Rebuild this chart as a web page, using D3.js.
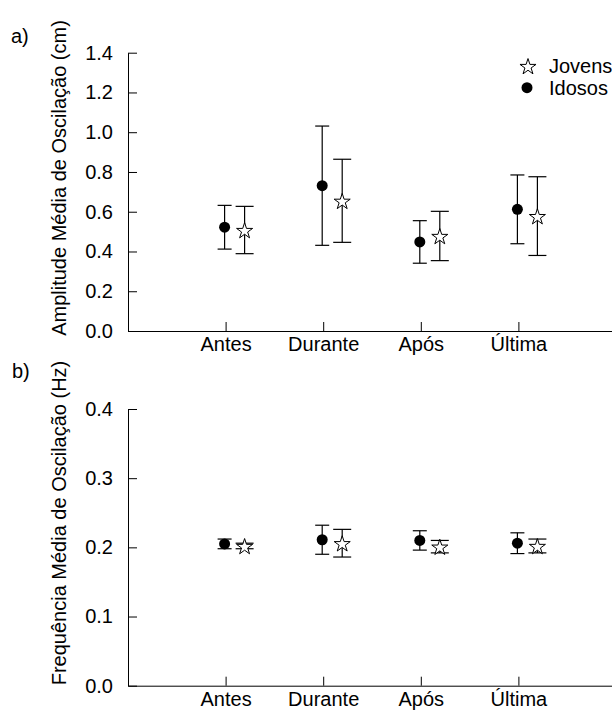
<!DOCTYPE html>
<html>
<head>
<meta charset="utf-8">
<script src="https://cdn.jsdelivr.net/npm/d3@7"></script>
<style>
body { margin: 0; background: #fff; }
svg text { font-family: Arial, "Liberation Sans", sans-serif; fill: #000; }
</style>
</head>
<body>
<div id="chart"></div>
<script>
// categories and values (mean, sd)
let categories = ["Antes", "Durante", "Após", "Última"];

let ampIdosos   = [0.522, 0.731, 0.448, 0.612];
let ampIdososSd = [0.110, 0.300, 0.107, 0.173];
let ampJovens   = [0.508, 0.655, 0.478, 0.578];
let ampJovensSd = [0.119, 0.209, 0.124, 0.198];

let freqIdosos   = [0.205, 0.211, 0.210, 0.206];
let freqIdososSd = [0.007, 0.021, 0.014, 0.015];
let freqJovens   = [0.202, 0.206, 0.201, 0.202];
let freqJovensSd = [0.004, 0.020, 0.009, 0.010];

let svg = d3.select('#chart').append('svg')
	.attr('width', 612)
	.attr('height', 710);

let fontSize = 20;
let xScale = d3.scaleLinear().domain([0, 5]).range([128, 616]);
let starPath = d3.symbol(d3.symbolStar, 80)();

function drawPanel(yScale, nTicks, idosos, idososSd, jovens, jovensSd) {
	let g = svg.append('g');
	let y0 = yScale.range()[0];

	// y axis, ticks pointing inward
	g.append('g')
		.attr('transform', 'translate(128,0)')
		.call(d3.axisLeft(yScale).ticks(nTicks).tickFormat(d3.format('.1f'))
			.tickSize(-9).tickSizeOuter(0).tickPadding(15))
		.attr('font-size', fontSize)
		.attr('font-family', 'Arial, "Liberation Sans", sans-serif');

	// x axis with category labels
	g.append('g')
		.attr('transform', `translate(0,${y0})`)
		.call(d3.axisBottom(xScale).tickValues([1, 2, 3, 4])
			.tickFormat(i => categories[i - 1])
			.tickSize(-9).tickSizeOuter(0).tickPadding(6))
		.attr('font-size', fontSize)
		.attr('font-family', 'Arial, "Liberation Sans", sans-serif');

	let series = [
		{ mean: idosos, sd: idososSd, dx: -1, cap: 7, kind: 'circle' },
		{ mean: jovens, sd: jovensSd, dx: 19, cap: 9, kind: 'star' }
	];

	series.forEach(function (s) {
		let pts = s.mean.map((m, i) => ({ x: xScale(i + 1) + s.dx, m: m, sd: s.sd[i] }));
		let bars = g.append('g').attr('stroke', '#000').attr('stroke-width', 1.2);
		pts.forEach(function (p) {
			bars.append('line')
				.attr('x1', p.x).attr('x2', p.x)
				.attr('y1', yScale(p.m - p.sd)).attr('y2', yScale(p.m + p.sd));
			[p.m - p.sd, p.m + p.sd].forEach(function (v) {
				bars.append('line')
					.attr('x1', p.x - s.cap).attr('x2', p.x + s.cap)
					.attr('y1', yScale(v)).attr('y2', yScale(v));
			});
		});
		if (s.kind === 'circle') {
			g.selectAll(null).data(pts).enter().append('circle')
				.attr('cx', d => d.x).attr('cy', d => yScale(d.m))
				.attr('r', 5.5).attr('fill', '#000');
		} else {
			g.selectAll(null).data(pts).enter().append('path')
				.attr('d', starPath)
				.attr('transform', d => `translate(${d.x},${yScale(d.m) + 1})`)
				.attr('fill', '#fff').attr('stroke', '#000').attr('stroke-width', 1);
		}
	});
	return g;
}

// a) amplitude
let yAmp = d3.scaleLinear().domain([0, 1.4]).range([331, 52.7]);
drawPanel(yAmp, 7, ampIdosos, ampIdososSd, ampJovens, ampJovensSd);

// b) frequency
let yFreq = d3.scaleLinear().domain([0, 0.4]).range([685.7, 409]);
drawPanel(yFreq, 4, freqIdosos, freqIdososSd, freqJovens, freqJovensSd);

// panel letters and y titles
svg.append('text').attr('x', 11).attr('y', 43).attr('font-size', fontSize).text('a)');
svg.append('text').attr('x', 12).attr('y', 378).attr('font-size', fontSize).text('b)');

svg.append('text')
	.attr('transform', 'translate(66,178) rotate(-90)')
	.attr('text-anchor', 'middle')
	.attr('font-size', fontSize)
	.text('Amplitude Média de Oscilação (cm)');
svg.append('text')
	.attr('transform', 'translate(66,523) rotate(-90)')
	.attr('text-anchor', 'middle')
	.attr('font-size', fontSize)
	.text('Frequência Média de Oscilação (Hz)');

// legend
let legend = svg.append('g');
legend.append('path')
	.attr('d', starPath)
	.attr('transform', 'translate(528,67)')
	.attr('fill', '#fff').attr('stroke', '#000').attr('stroke-width', 1);
legend.append('circle')
	.attr('cx', 527).attr('cy', 87.7).attr('r', 5.5).attr('fill', '#000');
legend.append('text').attr('x', 549).attr('y', 72.5).attr('font-size', fontSize).text('Jovens');
legend.append('text').attr('x', 549).attr('y', 94.5).attr('font-size', fontSize).text('Idosos');
</script>
</body>
</html>
